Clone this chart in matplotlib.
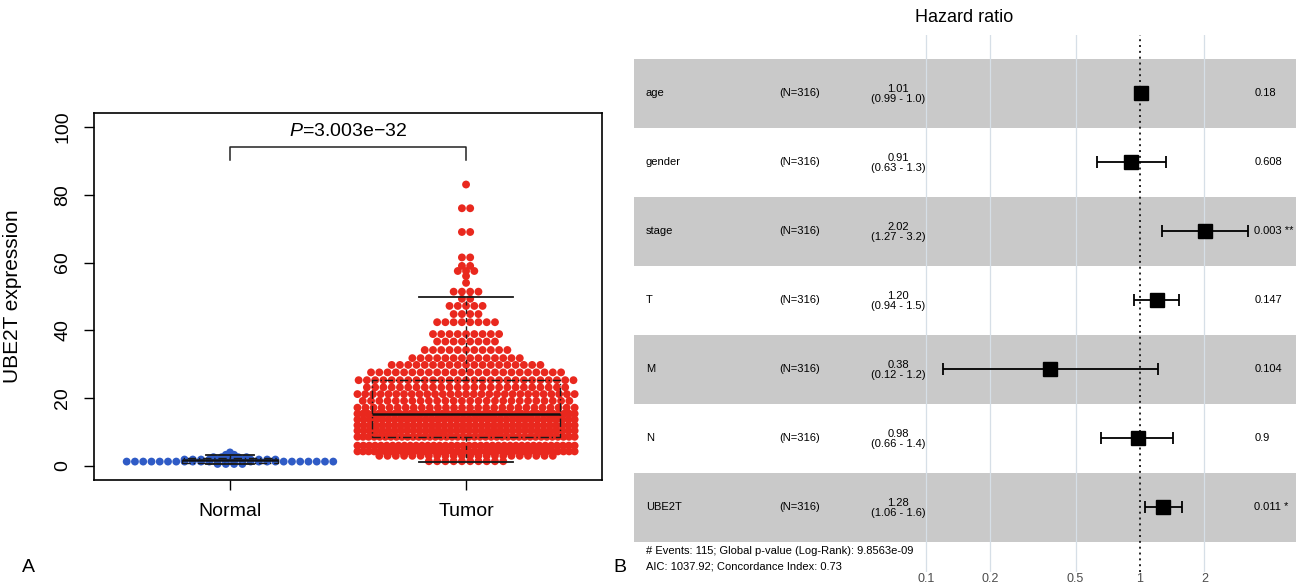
import numpy as np
import matplotlib
matplotlib.use('Agg')
import matplotlib.pyplot as plt

plt.rcParams['font.family'] = ['Liberation Sans', 'DejaVu Sans']
plt.rcParams['mathtext.fontset'] = 'custom'
plt.rcParams['mathtext.it'] = 'Liberation Sans:italic'
plt.rcParams['mathtext.rm'] = 'Liberation Sans'

# ---- panel A: UBE2T expression, beeswarm rows (value, number of points) ----
groups = ['Normal', 'Tumor']

normal_levels = [0.6, 1.3, 1.9, 2.6, 3.3, 4.0]
normal_counts = [4, 26, 12, 5, 2, 1]

tumor_levels = [1.4, 3.0, 4.3, 6.0, 8.6, 10.4, 12.0, 13.7, 15.4,
                17.2, 19.2, 21.2, 23.2, 25.3, 27.6, 29.8, 31.8, 34.2,
                36.7, 38.9, 42.4, 44.8, 47.2, 49.3, 51.4, 54.0, 56.0,
                57.5, 59.0, 61.5, 69.0, 76.0, 83.0]
tumor_counts = [10, 22, 40, 38, 40, 36, 36, 36, 42,
                28, 26, 29, 25, 27, 24, 19, 14, 11,
                8, 9, 8, 4, 5, 2, 4, 1, 1,
                3, 2, 2, 2, 2, 1]

# box statistics
normal_box = dict(whislo=0.6, q1=1.0, med=1.8, q3=2.5, whishi=3.3)
tumor_box = dict(whislo=1.3, q1=8.6, med=15.4, q3=25.3, whishi=49.7)
p_text = '=3.003e\u221232'

# ---- panel B: forest plot ----
variables = ['age', 'gender', 'stage', 'T', 'M', 'N', 'UBE2T']
n_labels = ['(N=316)'] * 7
hr = np.array([1.01, 0.91, 2.02, 1.20, 0.38, 0.98, 1.28])
ci_lo = np.array([0.99, 0.63, 1.27, 0.94, 0.12, 0.66, 1.06])
ci_hi = np.array([1.03, 1.32, 3.20, 1.53, 1.22, 1.43, 1.58])
hr_labels = ['1.01', '0.91', '2.02', '1.20', '0.38', '0.98', '1.28']
ci_labels = ['(0.99 - 1.0)', '(0.63 - 1.3)', '(1.27 - 3.2)', '(0.94 - 1.5)',
             '(0.12 - 1.2)', '(0.66 - 1.4)', '(1.06 - 1.6)']
p_labels = ['0.18', '0.608', '0.003 **', '0.147', '0.104', '0.9', '0.011 *']
footer = ['# Events: 115; Global p-value (Log-Rank): 9.8563e-09',
          'AIC: 1037.92; Concordance Index: 0.73']
hr_ticks = [0.1, 0.2, 0.5, 1, 2]


def swarm(center, levels, counts, step=0.035, half=0.46):
    xs, ys = [], []
    for v, n in zip(levels, counts):
        s = step if n < 2 else min(step, 2 * half / (n - 1))
        xs.extend(center + (np.arange(n) - (n - 1) / 2) * s)
        ys.extend([v] * n)
    return np.array(xs), np.array(ys)


fig = plt.figure(figsize=(13, 5.85), dpi=100)

# ---------------- panel A ----------------
ax = fig.add_axes([0.0723, 0.1795, 0.3908, 0.6274])
nx, ny = swarm(1, normal_levels, normal_counts)
tx, ty = swarm(2, tumor_levels, tumor_counts)
ax.scatter(nx, ny, s=32, color='#2F5BC6', edgecolors='none', zorder=2)
ax.scatter(tx, ty, s=32, color='#E9281E', edgecolors='none', zorder=2)

bstats = []
for st, lab in zip([normal_box, tumor_box], groups):
    d = dict(st)
    d['label'] = lab
    d['fliers'] = []
    bstats.append(d)
ax.bxp(bstats, positions=[1, 2], widths=[0.41, 0.8], showfliers=False,
       boxprops=dict(color='#1a1a1a', lw=1.0, ls=(0, (6, 2, 1, 2))),
       medianprops=dict(color='#111111', lw=1.8),
       whiskerprops=dict(color='#1a1a1a', lw=1.0, ls=(0, (3, 3))),
       capprops=dict(color='#1a1a1a', lw=1.3),
       capwidths=[0.2, 0.4], zorder=3)

# significance bracket
ax.plot([1, 1, 2, 2], [90.2, 94, 94, 90.2], color='#222222', lw=1.1)
ax.text(1.5, 98.5, r'$\mathit{P}$' + p_text, ha='center', va='center', fontsize=14)

ax.set_xlim(0.424, 2.576)
ax.set_ylim(-4.13, 104.1)
ax.set_xticks([1, 2])
ax.set_xticklabels(groups, fontsize=14)
ax.set_yticks([0, 20, 40, 60, 80, 100])
ax.tick_params(axis='both', direction='out', length=7.5, width=1.0, pad=9,
               labelsize=14)
for lab in ax.get_yticklabels():
    lab.set_rotation(90)
    lab.set_va('center')
    lab.set_ha('right')
ax.set_ylabel('UBE2T expression', fontsize=15)
ax.yaxis.set_label_coords(-0.142, 0.5)
for sp in ax.spines.values():
    sp.set_linewidth(1.2)

fig.text(28 / 1300, 1 - 568 / 585, 'A', fontsize=14, ha='center', va='center')
fig.text(620 / 1300, 1 - 568 / 585, 'B', fontsize=14, ha='center', va='center')

# ---------------- panel B ----------------
bx = fig.add_axes([0.4877, 0.0222, 0.5092, 0.918])
bx.set_xscale('log')
bx.set_xlim(10 ** -2.3645, 10 ** 0.729)
bx.set_ylim(6.935, -0.848)
rows = np.arange(len(variables))
for k in rows:
    if k % 2 == 0:
        bx.axhspan(k - 0.5, k + 0.5, color='#C9C9C9', lw=0, zorder=0)
for t in hr_ticks:
    if t != 1:
        bx.axvline(t, color='#D6DFE7', lw=0.9, zorder=1)
bx.axvline(1, color='#222222', lw=1.4, ls=(0, (1, 2)), zorder=2)

bx.errorbar(hr, rows, xerr=[hr - ci_lo, ci_hi - hr], fmt='s', color='black',
            ms=10, capsize=4, elinewidth=1.3, capthick=1.3, zorder=3)

trans = bx.get_yaxis_transform()
for k in rows:
    bx.text(0.018, k, variables[k], transform=trans, ha='left', va='center', fontsize=8)
    bx.text(0.219, k, n_labels[k], transform=trans, ha='left', va='center', fontsize=8)
    bx.text(0.399, k - 0.068, hr_labels[k], transform=trans, ha='center', va='center', fontsize=8)
    bx.text(0.399, k + 0.08, ci_labels[k], transform=trans, ha='center', va='center', fontsize=8)
    bx.text(0.937, k, p_labels[k], transform=trans, ha='left', va='center', fontsize=8)
bx.text(0.018, 6.63, footer[0], transform=trans, ha='left', va='center', fontsize=8)
bx.text(0.018, 6.86, footer[1], transform=trans, ha='left', va='center', fontsize=8)

bx.set_xticks(hr_ticks)
bx.set_xticklabels([f'{t:g}' for t in hr_ticks])
bx.minorticks_off()
bx.set_yticks([])
bx.tick_params(axis='x', length=0, pad=1, labelsize=9, labelcolor='#4D4D4D')
for sp in bx.spines.values():
    sp.set_visible(False)

fig.text(964 / 1300, 1 - 17 / 585, 'Hazard ratio', fontsize=13, ha='center', va='center')

fig.savefig('out.png', dpi=100)
